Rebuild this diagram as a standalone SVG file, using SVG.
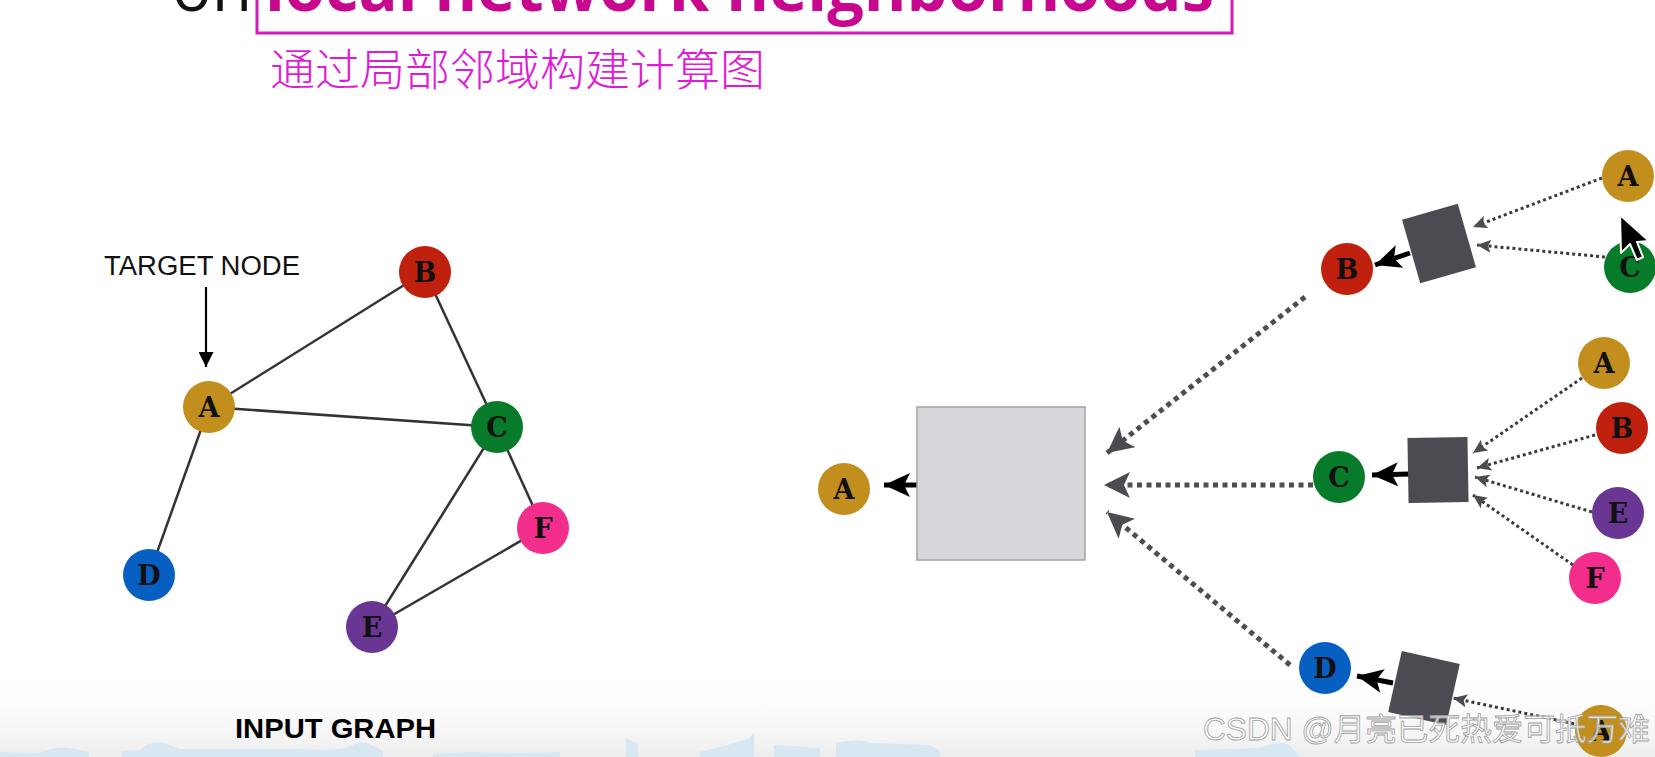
<svg xmlns="http://www.w3.org/2000/svg" width="1655" height="757" viewBox="0 0 1655 757">
<style>
.nd{stroke:none}
.lbl{font-family:"DejaVu Serif","Liberation Serif",serif;font-weight:bold;font-size:27px;fill:#111;text-anchor:middle;dominant-baseline:central}
.edge{stroke:#333;stroke-width:2.5;fill:none}
.bigdot{stroke:#4d4e53;stroke-width:5;stroke-dasharray:5 4.5;fill:none}
.smdot{stroke:#3a3a3e;stroke-width:3;stroke-dasharray:3 3;fill:none}
.blk{stroke:#000;stroke-width:5;fill:none}
.agg{fill:#4a4c52}
</style>
<defs>
<marker id="mBig" markerUnits="userSpaceOnUse" markerWidth="26" markerHeight="26" refX="26" refY="13" orient="auto"><path d="M0,0 L26,13 L0,26 L6,13 z" fill="#4a4c52"/></marker>
<marker id="mSm" markerUnits="userSpaceOnUse" markerWidth="14" markerHeight="13" refX="14" refY="6.5" orient="auto"><path d="M0,0 L14,6.5 L0,13 L3,6.5 z" fill="#4a4c52"/></marker>
<marker id="mBlk" markerUnits="userSpaceOnUse" markerWidth="26" markerHeight="24" refX="26" refY="12" orient="auto"><path d="M0,0 L26,12 L0,24 L6,12 z" fill="#000"/></marker>
<marker id="mTgt" markerUnits="userSpaceOnUse" markerWidth="15" markerHeight="15" refX="15" refY="7.5" orient="auto"><path d="M0,0 L15,7.5 L0,15 z" fill="#000"/></marker>
<linearGradient id="gb" x1="0" y1="0" x2="0" y2="1"><stop offset="0" stop-color="#ffffff" stop-opacity="0"/><stop offset="1" stop-color="#ededed"/></linearGradient>
</defs>
<rect width="1655" height="757" fill="#fff"/>
<rect x="0" y="670" width="1655" height="87" fill="url(#gb)"/>
<path d="M0,752 L40,753 Q55,746 70,748 L89,752 L89,757 L0,757 z M122,751 L140,750 Q150,740 165,743 L180,749 L300,749 Q330,751 345,748 L355,744 Q365,740 375,747 L383,751 L383,757 L122,757 z M433,754 L470,752 L520,753 L560,752 L560,757 L433,757 z M626,757 L626,738 L638,744 L638,757 z M700,752 Q730,745 750,738 L754,732 L754,757 L700,757 z M774,745 L820,748 L820,757 L774,757 z M836,743 Q860,738 870,743 L930,745 L940,751 L940,757 L836,757 z M1195,757 L1195,750 L1260,748 Q1280,740 1290,745 L1300,757 z" fill="#d8e8f3"/>
<g id="title">
<rect x="257" y="-60" width="975" height="93" fill="none" stroke="#d41bb8" stroke-width="3"/>
<text x="172" y="11" font-family="Open Sans, Liberation Sans, sans-serif" font-size="66" fill="#111">on</text>
<text x="265" y="11" font-family="Open Sans, Liberation Sans, sans-serif" font-weight="bold" font-size="66" fill="#c8078f" textLength="949" lengthAdjust="spacingAndGlyphs">local network neighborhoods</text>
</g>
<text id="subtitle" x="270" y="86" font-family="Noto Sans CJK SC, sans-serif" font-weight="300" font-size="44" fill="#e01bd6" textLength="495" lengthAdjust="spacingAndGlyphs">通过局部邻域构建计算图</text>
<g id="input-connectors">
<line class="edge" x1="209" y1="407" x2="425" y2="272"/>
<line class="edge" x1="209" y1="407" x2="497" y2="427"/>
<line class="edge" x1="209" y1="407" x2="149" y2="575"/>
<line class="edge" x1="425" y1="272" x2="497" y2="427"/>
<line class="edge" x1="497" y1="427" x2="372" y2="627"/>
<line class="edge" x1="497" y1="427" x2="543" y2="528"/>
<line class="edge" x1="372" y1="627" x2="543" y2="528"/>
<line x1="206" y1="287" x2="206" y2="367" stroke="#000" stroke-width="2.2" marker-end="url(#mTgt)"/>
</g>
<text id="target-label" x="104" y="275" font-family="Liberation Sans, Arial, sans-serif" font-size="27" fill="#111" textLength="196" lengthAdjust="spacingAndGlyphs">TARGET NODE</text>
<g id="in-A"><circle class="nd" cx="209" cy="407" r="26" fill="#c28e1e"/><text class="lbl" x="209" y="407">A</text></g>
<g id="in-B"><circle class="nd" cx="425" cy="272" r="26" fill="#c0210e"/><text class="lbl" x="425" y="272">B</text></g>
<g id="in-C"><circle class="nd" cx="497" cy="427" r="26" fill="#087b2b"/><text class="lbl" x="497" y="427">C</text></g>
<g id="in-D"><circle class="nd" cx="149" cy="575" r="26" fill="#075fc1"/><text class="lbl" x="149" y="575">D</text></g>
<g id="in-E"><circle class="nd" cx="372" cy="627" r="26" fill="#6a3694"/><text class="lbl" x="372" y="627">E</text></g>
<g id="in-F"><circle class="nd" cx="543" cy="528" r="26" fill="#f22d8c"/><text class="lbl" x="543" y="528">F</text></g>
<text id="input-label" x="235" y="738" font-family="Liberation Sans, Arial, sans-serif" font-weight="bold" font-size="28" fill="#000" textLength="201" lengthAdjust="spacingAndGlyphs">INPUT GRAPH</text>
<g id="comp-connectors">
<line class="bigdot" x1="1305" y1="297" x2="1107" y2="453" marker-end="url(#mBig)"/>
<line class="bigdot" x1="1313" y1="485" x2="1104" y2="485" marker-end="url(#mBig)"/>
<line class="bigdot" x1="1290" y1="665" x2="1107" y2="512" marker-end="url(#mBig)"/>
<line class="blk" x1="918" y1="485" x2="884" y2="485" marker-end="url(#mBlk)"/>
<line class="smdot" x1="1602" y1="178" x2="1473" y2="227" marker-end="url(#mSm)"/>
<line class="smdot" x1="1605" y1="257" x2="1477" y2="245" marker-end="url(#mSm)"/>
<line class="blk" x1="1410" y1="253" x2="1375" y2="265" marker-end="url(#mBlk)"/>
<line class="smdot" x1="1582" y1="378" x2="1473" y2="453" marker-end="url(#mSm)"/>
<line class="smdot" x1="1595" y1="435" x2="1477" y2="468" marker-end="url(#mSm)"/>
<line class="smdot" x1="1592" y1="512" x2="1475" y2="477" marker-end="url(#mSm)"/>
<line class="smdot" x1="1573" y1="565" x2="1473" y2="495" marker-end="url(#mSm)"/>
<line class="blk" x1="1410" y1="474" x2="1372" y2="475" marker-end="url(#mBlk)"/>
<line class="smdot" x1="1580" y1="725" x2="1453" y2="698" marker-end="url(#mSm)"/>
<line class="blk" x1="1393" y1="683" x2="1357" y2="676" marker-end="url(#mBlk)"/>
</g>
<g id="agg-main"><rect x="917" y="407" width="168" height="153" fill="#d7d8dc" stroke="#a3a3a3" stroke-width="1.5"/></g>
<g id="agg-B"><rect class="agg" x="-29" y="-33" width="58" height="66" transform="translate(1439 243.5) rotate(-16)"/></g>
<g id="agg-C"><rect class="agg" x="-30" y="-32.5" width="60" height="65" transform="translate(1438 470) rotate(-1)"/></g>
<g id="agg-D"><rect class="agg" x="-29.7" y="-31.2" width="59.4" height="62.4" transform="translate(1424 688) rotate(12.6)"/></g>
<g id="out-A"><circle class="nd" cx="844" cy="489" r="26" fill="#c28e1e"/><text class="lbl" x="844" y="489">A</text></g>
<g id="l1-B"><circle class="nd" cx="1347" cy="269" r="26" fill="#c0210e"/><text class="lbl" x="1347" y="269">B</text></g>
<g id="l1-C"><circle class="nd" cx="1339" cy="477" r="26" fill="#087b2b"/><text class="lbl" x="1339" y="477">C</text></g>
<g id="l1-D"><circle class="nd" cx="1325" cy="668" r="26" fill="#075fc1"/><text class="lbl" x="1325" y="668">D</text></g>
<g id="l2-A1"><circle class="nd" cx="1628" cy="176" r="26" fill="#c28e1e"/><text class="lbl" x="1628" y="176">A</text></g>
<g id="l2-C1"><circle class="nd" cx="1630" cy="267" r="26" fill="#087b2b"/><text class="lbl" x="1630" y="267">C</text></g>
<g id="l2-A2"><circle class="nd" cx="1604" cy="363" r="26" fill="#c28e1e"/><text class="lbl" x="1604" y="363">A</text></g>
<g id="l2-B2"><circle class="nd" cx="1622" cy="428" r="26" fill="#c0210e"/><text class="lbl" x="1622" y="428">B</text></g>
<g id="l2-E2"><circle class="nd" cx="1618" cy="513" r="26" fill="#6a3694"/><text class="lbl" x="1618" y="513">E</text></g>
<g id="l2-F2"><circle class="nd" cx="1595" cy="578" r="26" fill="#f22d8c"/><text class="lbl" x="1595" y="578">F</text></g>
<g id="l2-A3"><circle class="nd" cx="1601" cy="731" r="26" fill="#c28e1e"/><text class="lbl" x="1601" y="731">A</text></g>
<polygon id="cursor" points="1620,215 1621,253 1630,244 1637,260 1643,257 1637,242 1649,241" fill="#000" stroke="#fff" stroke-width="2" stroke-linejoin="round"/>
<text id="watermark" x="1203" y="740" font-family="Liberation Sans, Noto Sans CJK SC, sans-serif" font-size="31" fill="#ffffff" fill-opacity="0.75" stroke="#a0a0a0" stroke-width="0.8" textLength="447" lengthAdjust="spacingAndGlyphs">CSDN @月亮已死热爱可抵万难</text>
</svg>
